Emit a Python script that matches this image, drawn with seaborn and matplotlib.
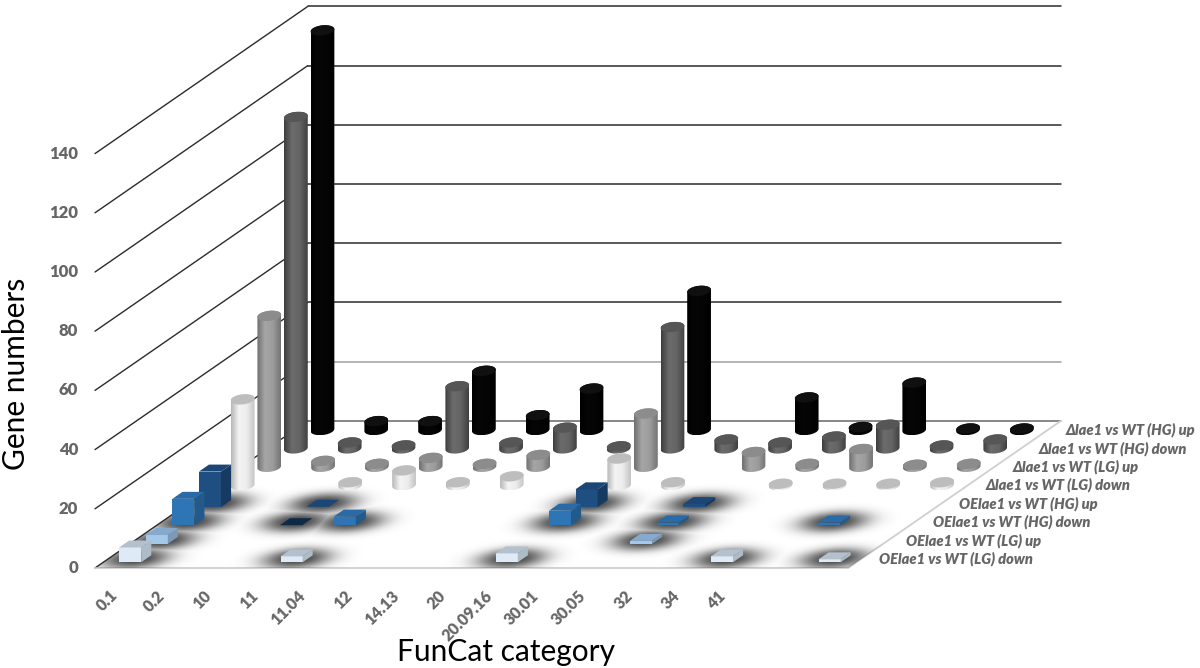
import numpy as np
import matplotlib
matplotlib.use('Agg')
import matplotlib.pyplot as plt
from matplotlib.patches import Polygon
import seaborn as sns

categories = ['0.1', '0.2', '10', '11', '11.04', '12', '14.13', '20', '20.09.16',
              '30.01', '30.05', '32', '34', '41']
series_names = ['OElae1 vs WT (LG) down', 'OElae1 vs WT (LG) up',
                'OElae1 vs WT (HG) down', 'OElae1 vs WT (HG) up',
                'Δlae1 vs WT (LG) down', 'Δlae1 vs WT (LG) up',
                'Δlae1 vs WT (HG) down', 'Δlae1 vs WT (HG) up']

# gene numbers per category, front row first
oe_lg_down = [5, 0, 0, 2, 0, 0, 0, 3, 0, 0, 0, 2, 0, 1]
oe_lg_up = [3, 0, 0, 0, 0, 0, 0, 0, 0, 1, 0, 0, 0, 0]
oe_hg_down = [9, 0, 0.1, 3, 0, 0, 0, 5, 0, 1, 0, 0, 1, 0]
oe_hg_up = [12, 0, 0.1, 0, 0, 0, 0, 6, 0, 1, 0, 0, 0, 0]
d_lg_down = [29, 0, 1, 5, 1, 3, 0, 9, 1, 0, 0.5, 0.5, 0.5, 1]
d_lg_up = [51, 2, 1, 3, 1, 4, 0, 18, 0, 5, 1, 6, 0.7, 1]
d_hg_down = [112, 2, 1, 21, 2, 7, 0.7, 41, 3, 2, 4, 8, 1, 3]
d_hg_up = [135, 3, 3, 20, 5, 14, 0, 47, 0, 11, 1, 16, 0.5, 0.5]
rows = [oe_lg_down, oe_lg_up, oe_hg_down, oe_hg_up, d_lg_down, d_lg_up, d_hg_down, d_hg_up]

y_ticks = [0, 20, 40, 60, 80, 100, 120, 140]

# box colours: front, side, top
box_colors = [('#deebf7', '#aebcc8', '#b4c1cd'),
              ('#a3c8ea', '#7d9ab5', '#86a9cd'),
              ('#2e75b6', '#235a8c', '#2a6aa6'),
              ('#1f4e80', '#163a61', '#1b4675')]
# cylinder colours: body shading left to right, top
cyl_colors = [(['#b8b8b8', '#f4f4f4', '#ececec', '#c4c4c4'], '#bdbdbd'),
              (['#707070', '#a6a6a6', '#9c9c9c', '#747474'], '#8c8c8c'),
              (['#3e3e3e', '#6c6c6c', '#646464', '#404040'], '#565656'),
              (['#000000', '#060606', '#040404', '#000000'], '#101010')]

PX_X, PX_Y = 53.8, 2.96      # pixels per category, pixels per gene
DX, DY = 26.6 / PX_X, 18.4 / PX_Y   # shift of one row of depth
TEXT = '#666666'

sns.set_theme(style='white')
plt.rcParams['font.family'] = ['Lato', 'DejaVu Sans']

fig = plt.figure(figsize=(12, 6.68), dpi=100)
ax = fig.add_axes([0, 0, 1, 1])
ax.set_xlim(-95 / PX_X, (1200 - 95) / PX_X)
ax.set_ylim(-100 / PX_Y, 568 / PX_Y)
ax.set_autoscale_on(False)
ax.axis('off')


def project(c, d, v=0):
    return c + d * DX, v + d * DY


n_cat, n_row = len(categories), len(rows)

# walls
for v in y_ticks:
    x0, y0 = project(0, 0, v)
    x1, y1 = project(0, n_row, v)
    x2, y2 = project(n_cat, n_row, v)
    ax.plot([x0, x1], [y0, y1], color='#2b2b2b', lw=1, zorder=1)
    back = {0: '#666666', 20: '#a0a0a0'}.get(v, '#2b2b2b')
    ax.plot([x1, x2], [y1, y2], color=back, lw=1.1, zorder=1)
    ax.text(x0 - 17 / PX_X, y0, str(v), ha='right', va='center', color=TEXT,
            fontsize=12, fontweight='heavy')

# floor edges
fx, fy = zip(*[project(0, 0), project(n_cat, 0), project(n_cat, n_row), project(0, n_row)])
ax.plot(fx[:3], fy[:3], color='#cfcfcf', lw=1.3, zorder=1)

# soft shadows under the boxes
xs = np.linspace(*ax.get_xlim(), 1200)
ys = np.linspace(*ax.get_ylim(), 668)
gx, gy = np.meshgrid(xs, ys)
dark = np.zeros_like(gx)
for d, row in enumerate(rows[:4]):
    for c, val in enumerate(row):
        if val > 0:
            cx, cy = project(c + 0.5, d + 0.5)
            rx = gx - cx - (gy - cy) * DX / DY * 0.6
            r2 = (rx / 0.62) ** 2 + ((gy - cy) / 3.5) ** 2
            dark = np.maximum(dark, np.exp(-r2 ** 1.25))
rgba = np.zeros(gx.shape + (4,))
rgba[..., :3] = 0.15
rgba[..., 3] = dark * 0.85
shadow = ax.imshow(rgba, extent=(xs[0], xs[-1], ys[0], ys[-1]), origin='lower',
                   aspect='auto', zorder=2, interpolation='bilinear')
shadow.set_clip_path(Polygon(list(zip(fx, fy)), transform=ax.transData))

z = 3
half_w, half_d = 0.205, 0.19
# cylinder end ellipse: half width, tilt (categories), half height (genes)
ell_a, ell_b, ell_e = 0.215, 0.05, 1.75


def draw_box(c, d, val, colors):
    global z
    front, side, top = colors
    a = project(c - half_w, d - half_d)
    b = project(c + half_w, d - half_d)
    e = project(c + half_w, d + half_d)
    up = lambda p: (p[0], p[1] + val)
    g = project(c - half_w, d + half_d)
    ax.add_patch(Polygon([a, b, up(b), up(a)], color=front, lw=0, zorder=z))
    ax.add_patch(Polygon([b, e, up(e), up(b)], color=side, lw=0, zorder=z))
    ax.add_patch(Polygon([up(a), up(b), up(e), up(g)], color=top, lw=0, zorder=z))
    z += 1


def draw_cylinder(c, d, val, colors):
    global z
    shades, top = colors
    cx, cy = project(c + 0.02, d)
    t0 = np.arctan2(ell_b, ell_a)

    def ring(t, v=0):
        return np.column_stack([cx + ell_a * np.cos(t) + ell_b * np.sin(t),
                                cy + v + ell_e * np.sin(t)])

    low = ring(np.linspace(t0, t0 - np.pi, 40))
    high = ring(np.linspace(t0 + np.pi, t0, 40), val)
    body = np.vstack([low, high])
    cmap = sns.blend_palette(shades, as_cmap=True)
    im = ax.imshow(np.linspace(0, 1, 64)[None, :], cmap=cmap, aspect='auto', zorder=z,
                   extent=(body[:, 0].min(), body[:, 0].max(), body[:, 1].min(), body[:, 1].max()))
    im.set_clip_path(Polygon(body, transform=ax.transData))
    ax.add_patch(Polygon(ring(np.linspace(0, 2 * np.pi, 60), val), color=top, lw=0, zorder=z + 0.5))
    z += 1


# back row first so nearer marks cover it
for d in range(n_row - 1, -1, -1):
    for c, val in enumerate(rows[d]):
        if val <= 0:
            continue
        if d < 4:
            colors = box_colors[d]
            if d == 2 and val < 0.5:   # this flat one shows up nearly navy
                colors = ('#0e2a47', '#0e2a47', '#0e2a47')
            draw_box(c + 0.5, d + 0.5, val, colors)
        else:
            draw_cylinder(c + 0.5, d + 0.5, val, cyl_colors[d - 4])

ax.set_xlim(-95 / PX_X, (1200 - 95) / PX_X)
ax.set_ylim(-100 / PX_Y, 568 / PX_Y)

# category labels sit closer together than the bars
for c, name in enumerate(categories):
    ax.text(0.38 + c * 46.8 / PX_X, -25 / PX_Y, name, rotation=45, rotation_mode='anchor',
            ha='right', va='center', color=TEXT, fontsize=11.5, fontweight='heavy', zorder=500)

# series labels along the right floor edge
for d, name in enumerate(series_names):
    px, py = project(n_cat, d + 0.5)
    ax.text(px + 18 / PX_X, py, name, ha='left', va='center', color=TEXT, fontsize=10.5,
            fontweight='heavy', fontstyle='italic', zorder=500)

ax.text(-79 / PX_X, (568 - 374) / PX_Y, 'Gene numbers', rotation=90, ha='center', va='center',
        color='black', fontsize=21.5, zorder=500)
ax.text((506 - 95) / PX_X, -84 / PX_Y, 'FunCat category', ha='center', va='center',
        color='black', fontsize=21.5, zorder=500)

fig.savefig('out.png', dpi=100)
